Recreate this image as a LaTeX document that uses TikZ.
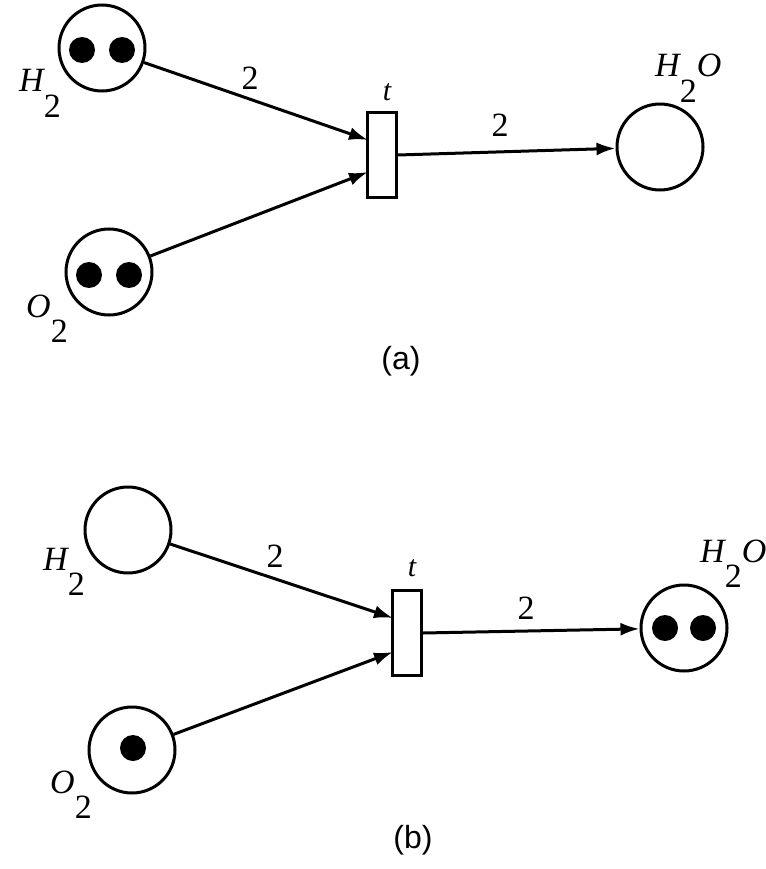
\documentclass[tikz,border=0pt]{standalone}
\usepackage{fontspec}
\setmainfont{Liberation Serif}
\newfontfamily\capfont{Liberation Sans}
\usetikzlibrary{arrows.meta,calc}
\newcommand{\chemlbl}[3]{\itshape #1\raisebox{-0.75em}{\upshape #2}#3}
\begin{document}
\begin{tikzpicture}[x=1pt,y=-1pt,
  place/.style={draw,circle,line width=3pt,minimum size=86pt,inner sep=0pt},
  token/.style={fill=black,circle,minimum size=26pt,inner sep=0pt},
  trans/.style={draw,rectangle,line width=3pt,minimum width=29pt,minimum height=85pt,inner sep=0pt,fill=white},
  arc/.style={line width=3pt,-{Latex[length=19pt,width=13pt]},shorten >=0pt},
  lab/.style={font=\fontsize{34}{34}\selectfont,inner sep=0pt,anchor=base west},
  wt/.style={font=\fontsize{34}{34}\selectfont,inner sep=0pt},
  tl/.style={font=\fontsize{30}{30}\selectfont\itshape,inner sep=0pt},
  captext/.style={font=\fontsize{32}{32}\selectfont\capfont,inner sep=0pt}]
\useasboundingbox (0,0) rectangle (765,869);
% ---------- (a) ----------
\node[place] (H2a) at (102,48) {};
\node[place] (O2a) at (109,272) {};
\node[trans] (Ta) at (382,155) {};
\node[place] (H2Oa) at (660,147) {};
\node[token] (H2a1) at (82,50) {};
\node[token] (H2a2) at (122,50) {};
\node[token] (O2a1) at (89,275) {};
\node[token] (O2a2) at (129,275) {};
\coordinate (TaIn1) at (368,140);
\coordinate (TaIn2) at (368,172);
\draw[arc] (H2a) -- (TaIn1);
\draw[arc] (O2a) -- (TaIn2);
\draw[arc] (Ta.east) -- (H2Oa);
\node[wt] (wa1) at (250,78) {2};
\node[wt] (wa2) at (500,125) {2};
\node[tl] (ta) at (387,92) {t};
\node[lab] (lH2a) at (19,92) {\chemlbl{H}{2}{}};
\node[lab] (lO2a) at (26,317) {\chemlbl{O}{2}{}};
\node[lab] (lH2Oa) at (655,77) {\chemlbl{H}{2}{O}};
\node[captext] (capa) at (401,361) {(a)};
% ---------- (b) ----------
\node[place] (H2b) at (128,530) {};
\node[place] (O2b) at (132,750) {};
\node[trans] (Tb) at (407,633) {};
\node[place] (H2Ob) at (684,628) {};
\node[token] (O2b1) at (133,748) {};
\node[token] (H2Ob1) at (665,628) {};
\node[token] (H2Ob2) at (703,628) {};
\coordinate (TbIn1) at (393,618);
\coordinate (TbIn2) at (393,652);
\draw[arc] (H2b) -- (TbIn1);
\draw[arc] (O2b) -- (TbIn2);
\draw[arc] (Tb.east) -- (H2Ob);
\node[wt] (wb1) at (275,556) {2};
\node[wt] (wb2) at (526,608) {2};
\node[tl] (tb) at (412,568) {t};
\node[lab] (lH2b) at (43,570) {\chemlbl{H}{2}{}};
\node[lab] (lO2b) at (50,793) {\chemlbl{O}{2}{}};
\node[lab] (lH2Ob) at (700,562) {\chemlbl{H}{2}{O}};
\node[captext] (capb) at (413,840) {(b)};
\end{tikzpicture}
\end{document}
